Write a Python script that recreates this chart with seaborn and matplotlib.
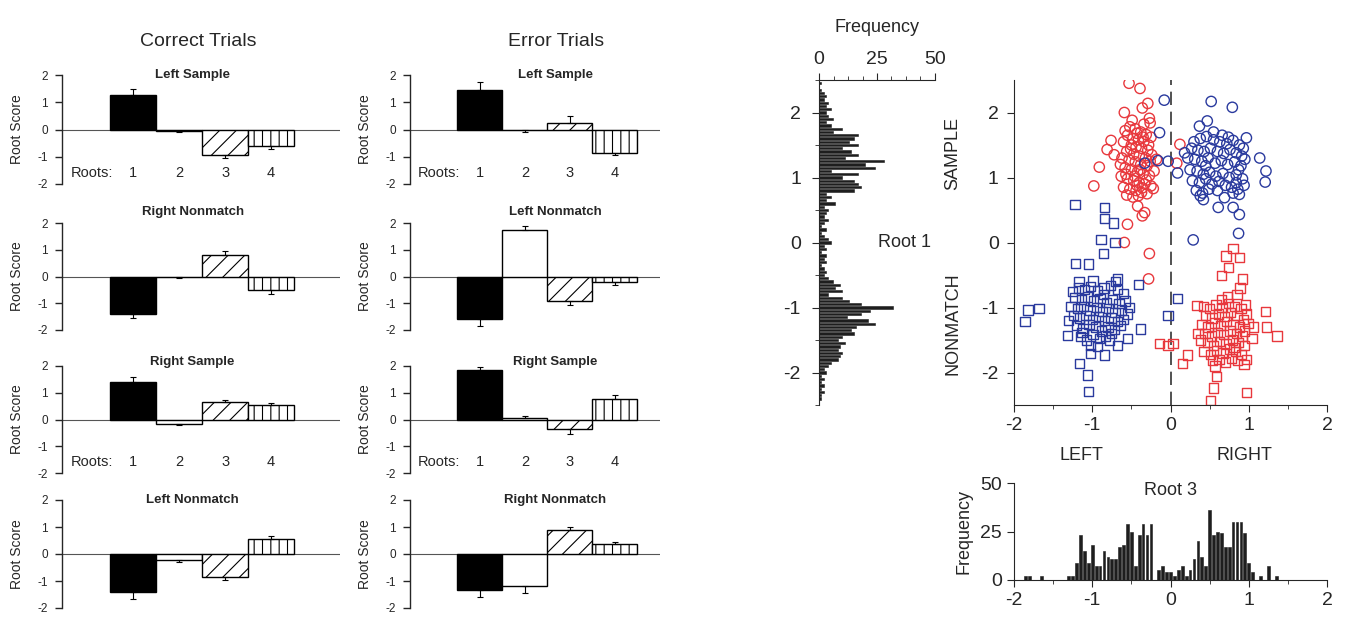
import numpy as np
import pandas as pd
import matplotlib
matplotlib.use("Agg")
import matplotlib.pyplot as plt
from matplotlib.ticker import MultipleLocator
import seaborn as sns

sns.set_style("ticks")
plt.rcParams['font.family'] = ['Liberation Sans', 'DejaVu Sans']
plt.rcParams['hatch.color'] = 'black'
plt.rcParams['hatch.linewidth'] = 0.8
plt.rcParams['axes.unicode_minus'] = False

# ---------------- data ----------------
roots = ['1', '2', '3', '4']
col_titles = ['Correct Trials', 'Error Trials']

correct_titles = ['Left Sample', 'Right Nonmatch', 'Right Sample', 'Left Nonmatch']
correct_vals = [[1.25, -0.05, -0.92, -0.62],
                [-1.40, -0.02, 0.80, -0.52],
                [1.42, -0.17, 0.65, 0.55],
                [-1.42, -0.22, -0.85, 0.55]]
correct_err = [[0.25, 0.05, 0.13, 0.08],
               [0.17, 0.02, 0.15, 0.13],
               [0.18, 0.04, 0.07, 0.05],
               [0.23, 0.06, 0.10, 0.10]]

error_titles = ['Left Sample', 'Left Nonmatch', 'Right Sample', 'Right Nonmatch']
error_vals = [[1.45, -0.02, 0.25, -0.85],
              [-1.60, 1.75, -0.92, -0.22],
              [1.85, 0.05, -0.35, 0.75],
              [-1.35, -1.17, 0.90, 0.37]]
error_err = [[0.30, 0.08, 0.25, 0.10],
             [0.25, 0.13, 0.13, 0.10],
             [0.10, 0.07, 0.20, 0.15],
             [0.25, 0.27, 0.10, 0.06]]

# Root 1 histogram (horizontal): bin centres and counts
r1_bins = np.round(np.arange(2.45, -2.46, -0.05), 2)
r1_counts = [1, 0, 1, 2, 3, 2, 4, 3, 5, 3, 4, 6, 3, 5, 10, 6, 17, 15, 13, 17,
             10, 14, 17, 11, 28, 20, 24, 5, 17, 10, 15, 17, 18, 15, 3, 5, 3, 7, 2, 4,
             3, 2, 4, 2, 1, 3, 1, 2, 4, 5, 2, 3, 1, 3, 2, 3, 1, 2, 3, 2,
             4, 6, 9, 7, 10, 4, 10, 13, 18, 32, 22, 18, 12, 21, 24, 16, 14, 15, 10, 8,
             11, 9, 8, 10, 9, 8, 5, 4, 2, 3, 1, 2, 1, 2, 1, 2, 1, 1, 0]

# Root 3 histogram
r3_bins = [-1.85, -1.80, -1.65, -1.30, -1.25, -1.20, -1.15, -1.10, -1.05, -1.00,
           -0.95, -0.90, -0.85, -0.80, -0.75, -0.70, -0.65, -0.60, -0.55, -0.50,
           -0.45, -0.40, -0.35, -0.30, -0.25, -0.15, -0.10, -0.05, 0.00, 0.05,
           0.10, 0.15, 0.20, 0.25, 0.30, 0.35, 0.40, 0.45, 0.50, 0.55,
           0.60, 0.65, 0.70, 0.75, 0.80, 0.85, 0.90, 0.95, 1.00, 1.05,
           1.15, 1.25, 1.35]
r3_counts = [2, 2, 2, 2, 2, 9, 23, 15, 9, 18,
             7, 7, 15, 12, 11, 11, 17, 18, 29, 25,
             7, 23, 29, 23, 29, 5, 7, 4, 4, 2,
             5, 7, 2, 5, 11, 20, 12, 7, 36, 23,
             25, 24, 17, 17, 30, 30, 30, 24, 9, 4,
             2, 7, 2]

# Scatter: Root 3 (x) vs Root 1 (y)
left_sample_x = [-0.53, -0.39, -0.29, -0.59, -0.36, -0.27, -0.26, -0.76, -0.81, -0.72, -0.91, -0.98,
                 -0.42, -0.33, -0.36, -0.55, -0.59, -0.27, -0.28, 0.12, 0.08, -0.18,
                 -0.58, -0.52, -0.45, -0.38, -0.31, -0.25, -0.55, -0.48, -0.41, -0.34, -0.60, -0.50,
                 -0.44, -0.37, -0.29, -0.56, -0.47, -0.40, -0.32, -0.24, -0.62, -0.53, -0.45, -0.38,
                 -0.30, -0.58, -0.50, -0.42, -0.35, -0.27, -0.63, -0.55, -0.47, -0.40, -0.33, -0.25,
                 -0.60, -0.52, -0.44, -0.37, -0.30, -0.56, -0.48, -0.41, -0.22, -0.35, -0.43, -0.28,
                 -0.51, -0.39, -0.46, -0.31, -0.21, -0.64, -0.36, -0.49, -0.34, -0.57, -0.43, -0.26]
left_sample_y = [2.45, 2.37, 2.14, 2.00, 2.07, 1.91, 1.84, 1.57, 1.43, 1.35, 1.16, 0.87,
                 0.56, 0.46, 0.41, 0.28, 0.00, -0.17, -0.56, 1.51, 1.22, 1.28,
                 1.72, 1.78, 1.75, 1.70, 1.66, 1.62, 1.65, 1.60, 1.58, 1.55, 1.55, 1.50,
                 1.47, 1.45, 1.42, 1.40, 1.36, 1.33, 1.30, 1.35, 1.30, 1.27, 1.24, 1.20,
                 1.18, 1.15, 1.12, 1.09, 1.06, 1.03, 1.02, 0.98, 0.95, 0.92, 0.90, 0.87,
                 0.85, 0.82, 0.80, 0.77, 0.75, 0.73, 0.70, 0.72, 0.83, 1.62, 1.68, 1.50,
                 1.44, 1.12, 1.02, 0.96, 1.10, 1.20, 0.84, 1.88, 1.82, 1.05, 0.88, 1.25]

right_sample_x = [0.52, 0.79, -0.08, -0.14, -0.16, -0.03, -0.33, 1.14, 1.22, 1.21, 0.97, 0.47,
                  0.37, 0.61, 0.29, 0.87, 0.88, 0.80, 0.42, 0.69, 0.09,
                  0.30, 0.38, 0.46, 0.55, 0.63, 0.72, 0.80, 0.88, 0.93, 0.27, 0.35, 0.43,
                  0.51, 0.60, 0.68, 0.76, 0.84, 0.91, 0.22, 0.31, 0.40, 0.48, 0.57, 0.65,
                  0.73, 0.82, 0.90, 0.25, 0.34, 0.42, 0.50, 0.58, 0.67, 0.75, 0.84, 0.92,
                  0.28, 0.37, 0.45, 0.53, 0.62, 0.70, 0.78, 0.86, 0.94, 0.33, 0.41, 0.49,
                  0.80, 0.88, 0.84, 0.18, 0.55, 0.66, 0.74, 0.45, 0.87, 0.60, 0.38, 0.95]
right_sample_y = [2.17, 2.08, 2.19, 1.69, 1.26, 1.25, 1.22, 1.30, 1.10, 0.93, 1.61, 1.87,
                  1.79, 0.54, 0.04, 0.14, 0.43, 0.54, 0.66, 0.69, 1.07,
                  1.55, 1.60, 1.63, 1.58, 1.55, 1.52, 1.57, 1.50, 1.45, 1.45, 1.42, 1.40,
                  1.45, 1.40, 1.37, 1.43, 1.38, 1.33, 1.30, 1.28, 1.25, 1.30, 1.22, 1.26,
                  1.20, 1.24, 1.18, 1.12, 1.10, 1.05, 1.08, 1.02, 1.06, 1.00, 1.04, 0.98,
                  0.95, 0.92, 0.98, 0.90, 0.94, 0.88, 0.85, 0.82, 0.88, 0.80, 0.76, 0.82,
                  0.76, 0.74, 0.92, 1.38, 1.70, 1.65, 1.62, 1.18, 1.12, 0.80, 0.72, 1.28]

left_nonmatch_x = [-1.22, -0.84, -0.84, -0.73, -0.89, -0.71, -0.86, -1.21, -1.05, -0.99, -0.68, -0.41,
                   -1.86, -1.82, -1.68, -1.32, -0.38, -0.55, -1.16, -1.06, -1.05, -0.84, -1.02, -0.68,
                   0.09, -0.03,
                   -1.25, -1.18, -1.10, -1.02, -0.93, -0.85, -0.77, -0.68, -0.60, -1.22, -1.14, -1.06,
                   -0.98, -0.90, -0.82, -0.74, -0.66, -0.58, -1.27, -1.19, -1.11, -1.03, -0.95, -0.87,
                   -0.79, -0.71, -0.63, -0.55, -1.24, -1.16, -1.08, -1.00, -0.92, -0.84, -0.76, -0.68,
                   -0.60, -1.20, -1.12, -1.04, -0.96, -0.88, -0.80, -0.72, -0.64, -1.15, -1.07, -0.99,
                   -0.91, -0.83, -0.75, -1.02, -0.93, -1.17, -0.70, -0.52, -1.30, -0.86, -1.13, -0.78]
left_nonmatch_y = [0.58, 0.54, 0.37, 0.30, 0.05, 0.00, -0.17, -0.32, -0.33, -0.59, -0.56, -0.65,
                   -1.22, -1.04, -1.02, -1.43, -1.33, -1.48, -1.86, -2.04, -2.29, -1.73, -1.71, -1.58,
                   -0.86, -1.12,
                   -0.75, -0.70, -0.72, -0.68, -0.74, -0.70, -0.66, -0.72, -0.78, -0.85, -0.88, -0.84,
                   -0.90, -0.86, -0.92, -0.88, -0.94, -0.90, -0.98, -1.02, -0.98, -1.04, -1.00, -1.06,
                   -1.02, -1.08, -1.04, -1.10, -1.12, -1.16, -1.12, -1.18, -1.14, -1.20, -1.16, -1.22,
                   -1.18, -1.28, -1.32, -1.26, -1.30, -1.36, -1.30, -1.34, -1.28, -1.45, -1.50, -1.42,
                   -1.48, -1.44, -1.40, -1.58, -1.60, -0.60, -0.60, -1.00, -1.20, -0.80, -1.38, -1.50]

right_nonmatch_x = [0.80, 0.88, 0.71, 0.74, 0.65, 0.92, 0.34, 1.21, 1.23, 1.36, 1.04, -0.14,
                    0.03, -0.03, 0.22, 0.15, 0.59, 0.55, 0.97, 0.51, 0.35, 1.06,
                    0.42, 0.50, 0.58, 0.66, 0.74, 0.82, 0.90, 0.96, 0.45, 0.53, 0.61, 0.69,
                    0.77, 0.85, 0.93, 0.99, 0.40, 0.48, 0.56, 0.64, 0.72, 0.80, 0.88, 0.95,
                    0.44, 0.52, 0.60, 0.68, 0.76, 0.84, 0.92, 0.47, 0.55, 0.63, 0.71, 0.79,
                    0.87, 0.95, 0.43, 0.51, 0.59, 0.67, 0.75, 0.83, 0.91, 0.97, 0.54, 0.62,
                    0.70, 0.78, 0.86, 0.94, 0.73, 0.85, 0.65, 0.89, 0.57, 0.97, 0.38, 0.81]
right_nonmatch_y = [-0.09, -0.23, -0.21, -0.38, -0.51, -0.56, -0.97, -1.06, -1.30, -1.44, -1.48, -1.55,
                    -1.55, -1.58, -1.73, -1.86, -2.06, -2.24, -2.31, -2.43, -1.40, -1.30,
                    -0.98, -1.02, -0.96, -1.00, -0.94, -0.98, -1.02, -0.96, -1.12, -1.16, -1.10, -1.14,
                    -1.08, -1.12, -1.18, -1.25, -1.26, -1.30, -1.24, -1.28, -1.22, -1.26, -1.30, -1.36,
                    -1.40, -1.44, -1.38, -1.42, -1.36, -1.40, -1.44, -1.54, -1.58, -1.52, -1.56, -1.50,
                    -1.54, -1.58, -1.68, -1.72, -1.66, -1.70, -1.64, -1.68, -1.72, -1.80, -1.82, -1.80,
                    -1.84, -1.78, -1.82, -1.88, -0.84, -0.80, -0.88, -0.70, -1.90, -1.10, -1.50, -1.62]

RED = '#e8383d'
BLUE = '#2a3a9e'

# ---------------- figure ----------------
fig = plt.figure(figsize=(13.48, 6.21), dpi=100)
W, H = 1348.0, 621.0


def px_axes(x0, y0, x1, y1):
    return fig.add_axes([x0 / W, 1 - y1 / H, (x1 - x0) / W, (y1 - y0) / H])


row_px = [(75, 184), (223, 330), (366, 473), (500, 608)]
title_off = [1.0, 1.1, 1.04, 1.0]
columns = [
    dict(x0=62, x1=340, xlim=(-1.55, 4.5), titles=correct_titles, vals=correct_vals,
         errs=correct_err, tx=0.47, header_x=198),
    dict(x0=410, x1=660, xlim=(-1.55, 4.0), titles=error_titles, vals=error_vals,
         errs=error_err, tx=0.58, header_x=556),
]

for col_i, col in enumerate(columns):
    fig.text(col['header_x'] / W, 1 - 42 / H, col_titles[col_i], ha='center', va='center',
             fontsize=14)
    for r, (y0, y1) in enumerate(row_px):
        ax = px_axes(col['x0'], y0, col['x1'], y1)
        vals = col['vals'][r]
        errs = col['errs'][r]
        df = pd.DataFrame({'root': roots, 'score': vals})
        sns.barplot(data=df, x='root', y='score', ax=ax, color='white', width=1.0,
                    edgecolor='black', linewidth=1.0, errorbar=None, saturation=1)
        for i, p in enumerate(ax.patches):
            if i == 0:
                p.set_facecolor('black')
            elif i == 2:
                p.set_hatch('//')
            elif i == 3:
                p.set_hatch('||')
        lower = [0 if v >= 0 else e for v, e in zip(vals, errs)]
        upper = [e if v >= 0 else 0 for v, e in zip(vals, errs)]
        ax.errorbar(range(len(vals)), vals, yerr=[lower, upper], fmt='none',
                    ecolor='black', elinewidth=0.8, capsize=2.5, capthick=0.8)
        ax.axhline(0, color='#555555', linewidth=0.8, zorder=0)
        ax.set_xlim(*col['xlim'])
        ax.set_ylim(-2, 2)
        ax.set_yticks([2, 1, 0, -1, -2])
        ax.set_yticklabels(['2', '1', '0', '-1', '-2'], fontsize=8.5)
        ax.set_xticks([])
        ax.set_xlabel('')
        ax.set_ylabel('Root Score', fontsize=10, labelpad=10)
        for s in ['top', 'right', 'bottom']:
            ax.spines[s].set_visible(False)
        ax.spines['left'].set_linewidth(1.0)
        ax.tick_params(axis='y', length=5, width=1.0, pad=5)
        ax.text(col['tx'], title_off[r], col['titles'][r], transform=ax.transAxes,
                ha='center', va='center', fontsize=9.5, fontweight='bold')
        if r in (0, 2):
            ax.text(-1.37, -1.58, 'Roots:', ha='left', va='center', fontsize=10.5)
            for i, lab in enumerate(roots):
                ax.text(i, -1.58, lab, ha='center', va='center', fontsize=10.5)

# ---- Root 1 histogram (horizontal) ----
axh = px_axes(819, 80, 935, 405)
sns.histplot(y=r1_bins, weights=r1_counts, binwidth=0.05, binrange=(-2.525, 2.525),
             ax=axh, color='#1e1e1e', edgecolor='#1e1e1e', linewidth=0.4, alpha=1,
             shrink=0.7)
axh.set_ylim(-2.5, 2.5)
axh.set_xlim(0, 50)
axh.xaxis.tick_top()
axh.xaxis.set_label_position('top')
axh.set_xticks([0, 25, 50])
axh.xaxis.set_minor_locator(MultipleLocator(6.25))
axh.set_xlabel('Frequency', fontsize=13, labelpad=14)
axh.set_ylabel('')
axh.set_yticks([2, 1, 0, -1, -2])
axh.yaxis.set_minor_locator(MultipleLocator(0.5))
axh.tick_params(axis='both', which='major', labelsize=14, length=5)
axh.tick_params(axis='y', which='major', pad=8)
axh.tick_params(axis='both', which='minor', length=3)
axh.spines['right'].set_visible(False)
axh.spines['bottom'].set_visible(False)
axh.spines['top'].set_visible(True)
axh.text(37, 0, 'Root 1', ha='center', va='center', fontsize=13)

# ---- Scatter ----
axs = px_axes(1014, 80, 1327, 405)
sns.scatterplot(x=left_sample_x, y=left_sample_y, ax=axs, marker='o', s=55,
                facecolor='none', edgecolor=RED, linewidth=1.0)
sns.scatterplot(x=right_sample_x, y=right_sample_y, ax=axs, marker='o', s=55,
                facecolor='none', edgecolor=BLUE, linewidth=1.0)
sns.scatterplot(x=left_nonmatch_x, y=left_nonmatch_y, ax=axs, marker='s', s=45,
                facecolor='none', edgecolor=BLUE, linewidth=1.0)
sns.scatterplot(x=right_nonmatch_x, y=right_nonmatch_y, ax=axs, marker='s', s=45,
                facecolor='none', edgecolor=RED, linewidth=1.0)
axs.axvline(0, color='#333333', linewidth=1.2, linestyle=(0, (8, 4)), zorder=0)
axs.set_xlim(-2, 2)
axs.set_ylim(-2.5, 2.5)
axs.set_xticks([-2, -1, 0, 1, 2])
axs.xaxis.set_minor_locator(MultipleLocator(0.5))
axs.set_yticks([2, 1, 0, -1, -2])
axs.tick_params(axis='both', which='major', labelsize=14, length=5)
axs.tick_params(axis='y', which='major', pad=6)
axs.tick_params(axis='both', which='minor', length=3)
sns.despine(ax=axs)
axs.text(-0.195, 1.37, 'SAMPLE', transform=axs.get_yaxis_transform(), rotation=90,
         ha='center', va='center', fontsize=13)
axs.text(-0.195, -1.25, 'NONMATCH', transform=axs.get_yaxis_transform(), rotation=90,
         ha='center', va='center', fontsize=13)
axs.text(-1.14, -0.154, 'LEFT', transform=axs.get_xaxis_transform(), ha='center',
         va='center', fontsize=13)
axs.text(0.95, -0.154, 'RIGHT', transform=axs.get_xaxis_transform(), ha='center',
         va='center', fontsize=13)

# ---- Root 3 histogram ----
axb = px_axes(1014, 483, 1327, 580)
sns.histplot(x=r3_bins, weights=r3_counts, binwidth=0.05, binrange=(-2.025, 2.025),
             ax=axb, color='#1e1e1e', edgecolor='#1e1e1e', linewidth=0.4, alpha=1,
             shrink=0.7)
axb.set_xlim(-2, 2)
axb.set_ylim(0, 50)
axb.set_xticks([-2, -1, 0, 1, 2])
axb.xaxis.set_minor_locator(MultipleLocator(0.5))
axb.set_yticks([0, 25, 50])
axb.tick_params(axis='both', which='major', labelsize=14, length=5)
axb.tick_params(axis='both', which='minor', length=3)
axb.set_ylabel('Frequency', fontsize=13, labelpad=6)
axb.set_xlabel('')
sns.despine(ax=axb)
axb.text(0, 46, 'Root 3', ha='center', va='center', fontsize=13)

fig.savefig('out.png', dpi=100)
